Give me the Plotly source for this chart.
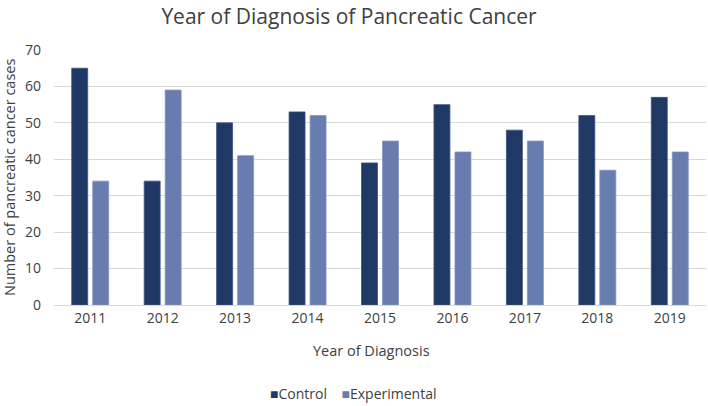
import plotly.graph_objects as go

years = ["2011", "2012", "2013", "2014", "2015", "2016", "2017", "2018", "2019"]
control = [65, 34, 50, 53, 39, 55, 48, 52, 57]
experimental = [34, 59, 41, 52, 45, 42, 45, 37, 42]
y_ticks = [0, 10, 20, 30, 40, 50, 60, 70]

FONT = "Open Sans"
C_CONTROL = "#1f3864"
C_EXP = "#687caf"
TXT = "#404040"

fig = go.Figure()
fig.add_trace(go.Bar(x=years, y=control, name="Control",
                     marker=dict(color=C_CONTROL, line=dict(color="#3a5384", width=0.8))))
fig.add_trace(go.Bar(x=years, y=experimental, name="Experimental",
                     marker=dict(color=C_EXP, line=dict(color="#8293bf", width=0.8))))

W, H = 708, 406
L, R, T, B = 54, 2, 50, 101
PH = H - T - B
PW = W - L - R


def px_x(page_x):
    return (page_x - L) / PW


def px_y(page_y):
    return (T + PH - page_y) / PH


fig.update_layout(
    width=W, height=H,
    margin=dict(l=L, r=R, t=T, b=B),
    paper_bgcolor="white", plot_bgcolor="white",
    barmode="group", bargap=0.42, bargroupgap=0.24,
    font=dict(family=FONT, color=TXT),
    title=dict(text="Year of Diagnosis of Pancreatic Cancer", x=349 / W, xanchor="center",
               xref="container", y=1 - 17 / H, yanchor="middle",
               font=dict(size=21, color=TXT, family=FONT)),
    showlegend=False,
)
fig.update_xaxes(
    showgrid=False, showline=True, linecolor="#d9d9d9", linewidth=1, automargin=False,
    tickfont=dict(size=14, color=TXT), ticks="",
)
fig.update_yaxes(
    range=[0, 70], tickvals=y_ticks, showgrid=True, gridcolor="#d9d9d9", gridwidth=1,
    zeroline=False, tickfont=dict(size=14, color=TXT), ticks="", ticklabelstandoff=12,
    automargin=False,
)
# axis titles
fig.add_annotation(text="Year of Diagnosis", xref="paper", yref="paper",
                   x=px_x(371), y=px_y(350), xanchor="center", yanchor="middle",
                   showarrow=False, font=dict(size=14.5, color=TXT, family=FONT))
fig.add_annotation(text="Number of pancreatic cancer cases", xref="paper", yref="paper",
                   x=px_x(9), y=px_y(178), xanchor="center", yanchor="middle",
                   textangle=-90, showarrow=False, font=dict(size=14.5, color=TXT, family=FONT))
# legend
legend_text = (f'<span style="color:{C_CONTROL}">■</span>Control'
               f'    <span style="color:{C_EXP}">■</span>Experimental')
fig.add_annotation(text=legend_text, xref="paper", yref="paper",
                   x=px_x(353), y=px_y(393), xanchor="center", yanchor="middle",
                   showarrow=False, font=dict(size=14, color=TXT, family=FONT))
fig.write_html("out.html", config=dict(displayModeBar=False),
               post_script="document.body.style.margin='0';document.body.style.overflow='hidden';")
